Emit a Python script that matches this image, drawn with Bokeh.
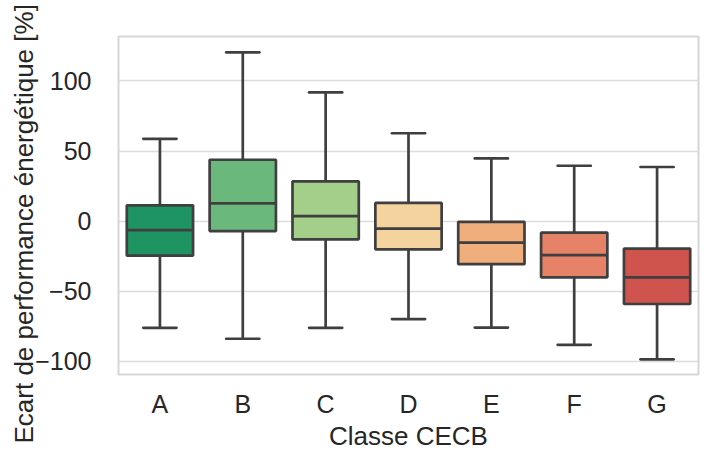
from bokeh.plotting import figure
from bokeh.models import FixedTicker, Range1d, FactorRange, Title, ColumnDataSource
from bokeh.transform import dodge
from bokeh.embed import file_html
from bokeh.resources import INLINE

classes = ["A", "B", "C", "D", "E", "F", "G"]
whisker_low = [-76.1, -83.9, -76.1, -69.9, -75.9, -88.2, -98.6]
q1 = [-24.6, -7.1, -13.0, -20.1, -30.7, -40.1, -59.1]
median = [-6.4, 12.6, 3.5, -5.4, -15.3, -24.3, -40.1]
q3 = [11.3, 43.8, 28.4, 13.0, -0.5, -8.2, -19.6]
whisker_high = [58.7, 120.4, 91.8, 62.7, 44.7, 39.5, 38.6]
colors = ["#1e9462", "#6bb87c", "#a3cf8a", "#f4d39e", "#efae7b", "#e58268", "#cf544d"]
y_ticks = [-100, -50, 0, 50, 100]
y_tick_labels = ["\u2212100", "\u221250", "0", "50", "100"]

FONT = "Liberation Sans"
TXT = "#262626"
LINE = "#3f3f3f"
LW = 2.7

src = ColumnDataSource(dict(cls=classes, low=whisker_low, q1=q1, med=median,
                            q3=q3, high=whisker_high, color=colors))

p = figure(width=706, height=453, output_backend="svg", toolbar_location=None,
           x_range=FactorRange(*classes), y_range=Range1d(-109.4, 131.7),
           min_border_left=118, min_border_right=8, min_border_top=36, min_border_bottom=77)
p.background_fill_color = "white"
p.border_fill_color = "white"
p.outline_line_color = "#d6d6d6"
p.outline_line_width = 2

p.xgrid.grid_line_color = None
p.ygrid.ticker = FixedTicker(ticks=y_ticks)
p.ygrid.grid_line_color = "#dcdcdc"
p.ygrid.grid_line_width = 1.4

p.yaxis.ticker = FixedTicker(ticks=y_ticks)
p.yaxis.major_label_overrides = dict(zip(y_ticks, y_tick_labels))
for ax in (p.xaxis, p.yaxis):
    ax.axis_line_color = None
    ax.major_tick_line_color = None
    ax.minor_tick_line_color = None
    ax.major_tick_out = 0
    ax.major_tick_in = 0
    ax.minor_tick_out = 0
    ax.minor_tick_in = 0
    ax.major_label_text_font = FONT
    ax.major_label_text_font_size = "25px"
    ax.major_label_text_color = TXT
p.yaxis.major_label_standoff = 27
p.xaxis.major_label_standoff = 15
p.xaxis.axis_label = "Classe CECB"
p.xaxis.axis_label_text_font = FONT
p.xaxis.axis_label_text_font_size = "26px"
p.xaxis.axis_label_text_font_style = "normal"
p.xaxis.axis_label_text_color = TXT
p.xaxis.axis_label_standoff = 0

ytitle = Title(text="Ecart de performance énergétique [%]", align="left", offset=-69,
               text_font=FONT, text_font_size="26px", text_font_style="normal",
               text_color=TXT, standoff=-13)
p.add_layout(ytitle, "left")

xr = p.x_range
p.segment(x0="cls", y0="low", x1="cls", y1="q1", source=src, line_color=LINE, line_width=LW)
p.segment(x0="cls", y0="q3", x1="cls", y1="high", source=src, line_color=LINE, line_width=LW)
p.segment(x0=dodge("cls", -0.2, range=xr), y0="low", x1=dodge("cls", 0.2, range=xr), y1="low",
          source=src, line_color=LINE, line_width=LW, line_cap="round")
p.segment(x0=dodge("cls", -0.2, range=xr), y0="high", x1=dodge("cls", 0.2, range=xr), y1="high",
          source=src, line_color=LINE, line_width=LW, line_cap="round")
p.vbar(x="cls", bottom="q1", top="q3", width=0.8, source=src, fill_color="color",
       line_color=LINE, line_width=LW)
p.segment(x0=dodge("cls", -0.4, range=xr), y0="med", x1=dodge("cls", 0.4, range=xr), y1="med",
          source=src, line_color=LINE, line_width=LW)

open("out.html", "w").write(file_html(p, INLINE))
